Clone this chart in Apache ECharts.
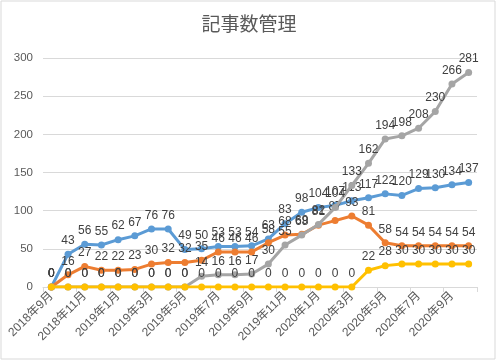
<!DOCTYPE html>
<html><head><meta charset="utf-8">
<script src="https://cdn.jsdelivr.net/npm/echarts@6/dist/echarts.min.js"></script>
<style>html,body{margin:0;padding:0;background:#fff}#c{width:498px;height:361px}</style>
</head><body><div id="c"></div>
<script>
const titleText = '記事数管理';
const categories = ['2018年9月','2018年10月','2018年11月','2018年12月','2019年1月','2019年2月','2019年3月','2019年4月','2019年5月','2019年6月','2019年7月','2019年8月','2019年9月','2019年10月','2019年11月','2019年12月','2020年1月','2020年2月','2020年3月','2020年4月','2020年5月','2020年6月','2020年7月','2020年8月','2020年9月','2020年10月'];
const seriesNames = ['系列1','系列2','系列3','系列4'];
const blueVals = [0,43,56,55,62,67,76,76,49,50,53,53,54,63,83,98,104,107,113,117,122,120,129,130,134,137];
const orangeVals = [0,16,27,22,22,23,30,32,32,35,46,46,46,58,68,69,81,87,93,81,58,54,54,54,54,54];
const grayVals = [0,0,0,0,0,0,0,0,0,14,16,16,17,30,55,68,82,104,133,162,194,198,208,230,266,281];
const yellowVals = [0,0,0,0,0,0,0,0,0,0,0,0,0,0,0,0,0,0,0,22,28,30,30,30,30,30];
const yTicks = {min:0, max:300, interval:50};

const colors = ['#5B9BD5','#ED7D31','#A5A5A5','#FFC000'];
const allVals = [blueVals, orangeVals, grayVals, yellowVals];
const numFont = "'Liberation Sans Narrow','Liberation Sans','Noto Sans CJK JP',sans-serif";

const chart = echarts.init(document.getElementById('c'));
chart.setOption({
  animation:false,
  backgroundColor:'#fff',
  title:{text:titleText,left:'center',top:9,textStyle:{fontFamily:"'Noto Sans CJK JP',sans-serif",fontSize:19,fontWeight:'normal',color:'#595959'}},
  graphic:[{type:'rect',shape:{x:1,y:1,width:494,height:358},style:{fill:'none',stroke:'#d9d9d9',lineWidth:1},silent:true,z:-1}],
  grid:{left:43,right:21,top:58,bottom:74},
  xAxis:{type:'category',data:categories,boundaryGap:true,
    axisLine:{lineStyle:{color:'#d9d9d9'}},
    axisTick:{show:true,interval:1,length:5,lineStyle:{color:'#d9d9d9'}},
    axisLabel:{interval:1,rotate:45,margin:7,color:'#595959',fontSize:12,fontFamily:"'Liberation Sans','Noto Sans CJK JP',sans-serif"}},
  yAxis:{type:'value',min:yTicks.min,max:yTicks.max,interval:yTicks.interval,
    axisLine:{show:false},axisTick:{show:false},
    splitLine:{lineStyle:{color:'#d9d9d9'}},
    axisLabel:{color:'#595959',fontSize:11.5,margin:10,fontFamily:"'Liberation Sans',sans-serif"}},
  series: allVals.map((vals,k)=>({
    name:seriesNames[k],type:'line',data:vals,
    symbol:'circle',symbolSize:7,
    lineStyle:{width:3,color:colors[k]},
    itemStyle:{color:colors[k]},
    label:{show:true,position:'top',distance:4,color:'#404040',fontSize:12,fontFamily:numFont},
    z:2+k
  }))
});
</script></body></html>
